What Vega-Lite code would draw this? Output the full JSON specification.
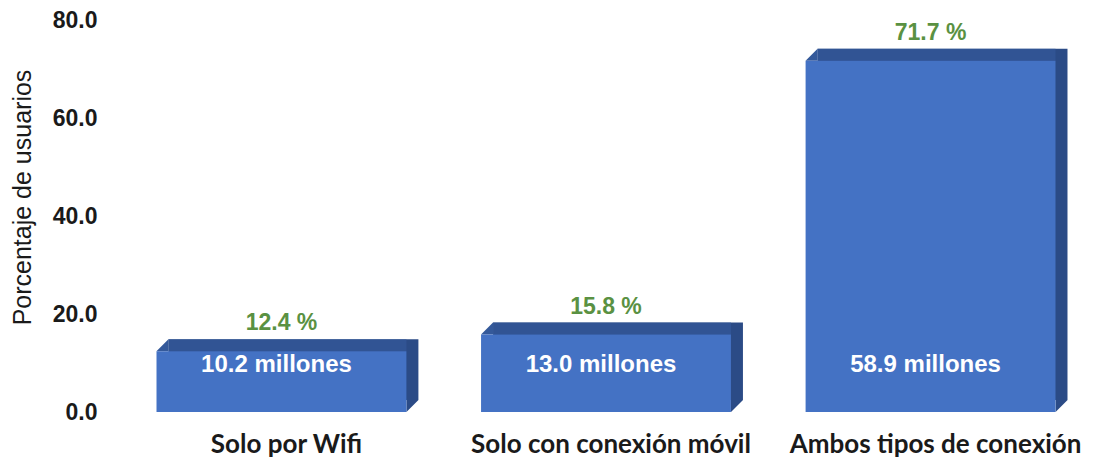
{
  "$schema": "https://vega.github.io/schema/vega-lite/v6.json",
  "autosize": "none",
  "width": 972,
  "height": 392,
  "padding": {"left": 120, "top": 20, "right": 1, "bottom": 51},
  "background": "white",
  "config": {"view": {"stroke": null}},
  "data": {
    "values": [
      {"tipo": "Solo por Wifi", "pct": 12.4, "pct_label": "12.4 %", "mill_label": "10.2 millones"},
      {"tipo": "Solo con conexión móvil", "pct": 15.8, "pct_label": "15.8 %", "mill_label": "13.0 millones"},
      {"tipo": "Ambos tipos de conexión", "pct": 71.7, "pct_label": "71.7 %", "mill_label": "58.9 millones"}
    ]
  },
  "encoding": {
    "x": {
      "field": "tipo",
      "type": "nominal",
      "sort": null,
      "scale": {"paddingInner": 0.23, "paddingOuter": 0.1125},
      "axis": {
        "title": null,
        "labelAngle": 0,
        "domain": false,
        "ticks": false,
        "labelPadding": 19,
        "labelOffset": 5,
        "labelLimit": 0,
        "labelFont": "Lato",
        "labelFontWeight": "bold",
        "labelFontSize": 26,
        "labelColor": "#1a1a1a"
      }
    },
    "y": {
      "field": "pct",
      "type": "quantitative",
      "scale": {"domain": [0, 80], "nice": false},
      "axis": {
        "values": [0, 20, 40, 60, 80],
        "format": ".1f",
        "grid": false,
        "domain": false,
        "ticks": false,
        "labelPadding": 23,
        "labelFont": "Liberation Sans",
        "labelFontWeight": "bold",
        "labelFontSize": 23,
        "labelColor": "#1a1a1a",
        "title": "Porcentaje de usuarios",
        "titleFont": "Liberation Sans",
        "titleFontWeight": "normal",
        "titleFontSize": 25,
        "titleColor": "#1a1a1a",
        "titleX": -98,
        "titleY": 177,
        "titleBaseline": "middle"
      }
    }
  },
  "layer": [
    {
      "mark": {"type": "bar", "color": "#2B4B86", "xOffset": 12, "x2Offset": 12, "yOffset": -12, "y2Offset": -12}
    },
    {
      "mark": {"type": "tick", "color": "#34599A", "orient": "horizontal", "thickness": 12, "size": 238, "xOffset": 6, "yOffset": -6}
    },
    {
      "mark": {"type": "point", "shape": "M0,0 L1,-1 L1,0 Z", "size": 576, "filled": true, "opacity": 1, "strokeWidth": 0, "color": "#34599A", "xOffset": -125}
    },
    {
      "mark": {"type": "point", "shape": "M0,0 L0,-1 L1,-1 Z", "size": 576, "filled": true, "opacity": 1, "strokeWidth": 0, "color": "#2B4B86", "xOffset": 125},
      "encoding": {"y": {"datum": 0}}
    },
    {
      "mark": {"type": "bar", "color": "#4472C4"}
    },
    {
      "mark": {"type": "text", "baseline": "bottom", "dy": -16, "font": "Liberation Sans", "fontWeight": "bold", "fontSize": 23, "color": "#5A9142"},
      "encoding": {
        "text": {"field": "pct_label"}
      }
    },
    {
      "mark": {"type": "text", "baseline": "middle", "dx": -5, "font": "Liberation Sans", "fontWeight": "bold", "fontSize": 24, "color": "white"},
      "encoding": {
        "y": {"datum": 9.6},
        "text": {"field": "mill_label"}
      }
    }
  ]
}
